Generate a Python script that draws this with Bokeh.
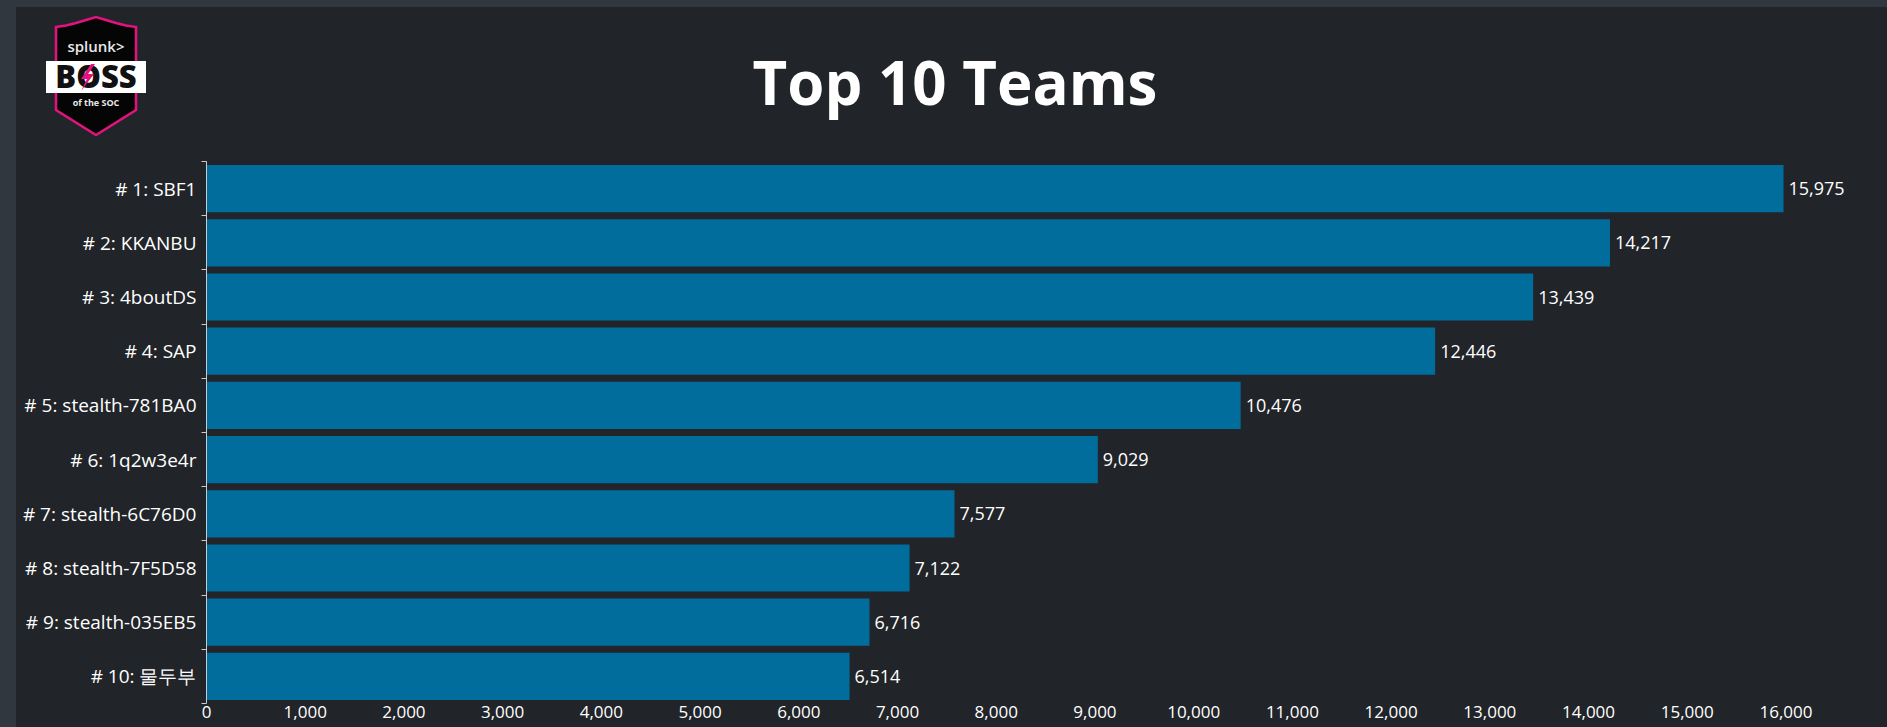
from bokeh.plotting import figure
from bokeh.layouts import column, row
from bokeh.models import (ColumnDataSource, Range1d, FixedTicker, NumeralTickFormatter, LabelSet, Div,
                          GlobalInlineStyleSheet)
from bokeh.core.properties import value
from bokeh.embed import file_html
from bokeh.resources import INLINE

# ---------------- data ----------------
teams = ["# 1: SBF1", "# 2: KKANBU", "# 3: 4boutDS", "# 4: SAP", "# 5: stealth-781BA0",
         "# 6: 1q2w3e4r", "# 7: stealth-6C76D0", "# 8: stealth-7F5D58", "# 9: stealth-035EB5",
         "# 10: 물두부"]
scores = [15975, 14217, 13439, 12446, 10476, 9029, 7577, 7122, 6716, 6514]
x_ticks = [0, 1000, 2000, 3000, 4000, 5000, 6000, 7000, 8000, 9000, 10000,
           11000, 12000, 13000, 14000, 15000, 16000]
title_text = "Top 10 Teams"

# ---------------- style ----------------
W, H = 1887, 727
LEFT_STRIP, TOP_STRIP = 16, 7
HEADER_H = 154
PW = W - LEFT_STRIP
MAIN_H = H - TOP_STRIP - HEADER_H
BG = "#212428"
OUTER = "#31373f"
BAR = "#006d9c"
AXIS = "#c8ccd0"
FONT = "Open Sans"
PINK = "#e5127d"

# ---------------- header (logo + title) as inline SVG ----------------
def pts(xs, ys):
    return " ".join(f"{x - LEFT_STRIP},{y - TOP_STRIP}" for x, y in zip(xs, ys))

shield = pts([56, 66, 76, 86, 96, 106, 116, 126, 136, 136, 96, 56],
             [27, 25.5, 23, 20, 17, 20, 23, 25.5, 27, 110, 135, 110])
bolt = pts([91, 81, 87, 81, 94, 88, 95], [64, 79, 79, 91, 74, 74, 64])
cx = 96 - LEFT_STRIP
TS = "font-family:'Open Sans',sans-serif;"
header_svg = f"""
<svg xmlns="http://www.w3.org/2000/svg" width="{PW}" height="{HEADER_H}" style="display:block">
  <rect x="0" y="0" width="{PW}" height="{HEADER_H}" fill="{BG}"/>
  <polygon points="{shield}" fill="#050505" stroke="{PINK}" stroke-width="2.5"/>
  <rect x="{46 - LEFT_STRIP}" y="{61 - TOP_STRIP}" width="100" height="32" fill="#ffffff"/>
  <text x="{cx}" y="{52 - TOP_STRIP}" text-anchor="middle" style="{TS}font-weight:600;font-size:15px"
        fill="#e8e8e8">splunk&gt;</text>
  <text x="{cx}" y="{88 - TOP_STRIP}" text-anchor="middle" style="{TS}font-weight:800;font-size:31px"
        fill="#111111">BOSS</text>
  <polygon points="{bolt}" fill="{PINK}"/>
  <text x="{cx}" y="{106 - TOP_STRIP}" text-anchor="middle" style="{TS}font-weight:700;font-size:9px"
        fill="#e8e8e8">of the SOC</text>
  <text x="{955 - LEFT_STRIP}" y="{105 - TOP_STRIP}" text-anchor="middle"
        style="{TS}font-weight:700;font-size:60px" fill="#ffffff">{title_text}</text>
</svg>
"""
header = Div(text=header_svg, width=PW, height=HEADER_H,
             styles={"background-color": BG, "margin": "0", "padding": "0", "overflow": "hidden"})

# ---------------- main bar chart ----------------
pos = list(range(len(teams)))
src = ColumnDataSource(dict(pos=pos, team=teams, score=scores,
                            label=[f"{s:,}" for s in scores]))

p = figure(width=PW, height=MAIN_H,
           x_range=Range1d(0, 16856), y_range=Range1d(len(teams) - 0.5, -0.5),
           output_backend="svg", toolbar_location=None,
           min_border_left=206 - LEFT_STRIP, min_border_right=17, min_border_top=0, min_border_bottom=24,
           background_fill_color=BG, border_fill_color=BG, outline_line_color=None)
try:
    p.border_line_color = None
except Exception:
    pass

p.hbar(y="pos", left=0, right="score", height=0.87, source=src,
       fill_color=BAR, line_color=None)

p.add_layout(LabelSet(x="score", y="pos", text="label", source=src, x_offset=5,
                      text_baseline="middle", text_align="left",
                      text_font=value(FONT), text_font_size="18px", text_color="#ffffff"))

p.xgrid.visible = False
p.ygrid.visible = False

xa = p.xaxis[0]
xa.ticker = FixedTicker(ticks=x_ticks)
xa.formatter = NumeralTickFormatter(format="0,0")
xa.axis_line_color = None
xa.major_tick_line_color = None
xa.minor_tick_line_color = None
xa.major_tick_out = 0
xa.major_tick_in = 0
xa.major_label_standoff = 2
xa.major_label_text_font = FONT
xa.major_label_text_font_size = "17px"
xa.major_label_text_color = "#ffffff"

ya = p.yaxis[0]
ya.ticker = FixedTicker(ticks=pos, minor_ticks=[i - 0.5 for i in range(len(teams) + 1)])
ya.major_label_overrides = {i: t for i, t in enumerate(teams)}
ya.major_tick_line_color = None
ya.major_tick_out = 0
ya.major_tick_in = 0
ya.minor_tick_out = 5
ya.minor_tick_in = 0
ya.minor_tick_line_color = AXIS
ya.axis_line_color = AXIS
ya.major_label_standoff = 5
ya.major_label_text_font = FONT
ya.major_label_text_font_size = "19px"
ya.major_label_text_color = "#ffffff"

# ---------------- page layout with outer strips ----------------
top_strip = Div(text="", width=W, height=TOP_STRIP,
                styles={"background-color": OUTER, "margin": "0", "padding": "0"})
left_strip = Div(text="", width=LEFT_STRIP, height=H - TOP_STRIP,
                 styles={"background-color": OUTER, "margin": "0", "padding": "0"})

layout = column(top_strip, row(left_strip, column(header, p, spacing=0), spacing=0), spacing=0)
layout.stylesheets = [GlobalInlineStyleSheet(
    css=f"html, body {{ background-color: {BG}; margin: 0; padding: 0; overflow: hidden; }}")]

open("out.html", "w").write(file_html(layout, INLINE))
